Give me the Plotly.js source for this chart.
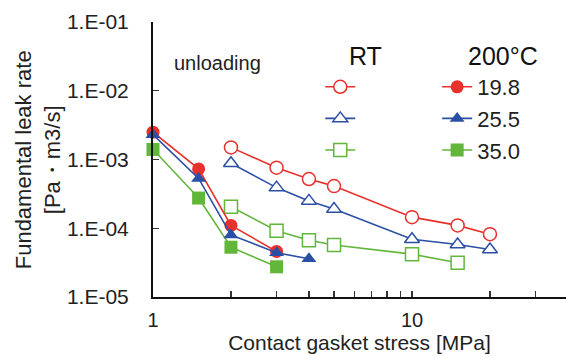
<!DOCTYPE html>
<html>
<head>
<meta charset="utf-8">
<script src="https://cdn.plot.ly/plotly-3.0.1.min.js"></script>
<style>html,body{margin:0;padding:0;background:#fff;}#chart{width:566px;height:358px;}</style>
</head>
<body>
<div id="chart"></div>
<script>
// Contact gasket stress [MPa]
const rtStress = [2, 3, 4, 5, 10, 15, 20];
const rtStress350 = [2, 3, 4, 5, 10, 15];
const hotStress = [1, 1.5, 2, 3];
const hotStress255 = [1, 1.5, 2, 3, 4];

// Fundamental leak rate [Pa·m3/s]
const rt198 = [1.5e-3, 7.6e-4, 5.2e-4, 4.1e-4, 1.45e-4, 1.1e-4, 8.2e-5];
const rt255 = [8.8e-4, 3.9e-4, 2.5e-4, 1.9e-4, 6.9e-5, 5.8e-5, 4.9e-5];
const rt350 = [2.05e-4, 9.2e-5, 6.7e-5, 5.7e-5, 4.2e-5, 3.15e-5];
const hot198 = [2.5e-3, 7.3e-4, 1.1e-4, 4.6e-5];
const hot255 = [2.3e-3, 5.3e-4, 8.0e-5, 4.4e-5, 3.6e-5];
const hot350 = [1.4e-3, 2.75e-4, 5.3e-5, 2.75e-5];

const seriesNames = ['19.8', '25.5', '35.0'];
const yTickVals = [1e-5, 1e-4, 1e-3, 1e-2, 1e-1];
const yTickText = ['1.E-05', '1.E-04', '1.E-03', '1.E-02', '1.E-01'];
const xTickVals = [1, 2, 3, 4, 5, 6, 7, 8, 9, 10, 20, 30];
const xTickText = ['1', '', '', '', '', '', '', '', '', '10', '', ''];

const RED = '#e8302c', BLUE = '#2a4fa5', GREEN = '#62b63a';
const FONT = 'Liberation Sans, Arial, sans-serif';

function tr(x, y, color, symbol, open, legend, name, rank) {
  return {
    x: x, y: y, type: 'scatter', mode: 'lines+markers', cliponaxis: false,
    name: name, legend: legend, legendrank: rank,
    line: {color: color, width: 1.6},
    marker: {symbol: symbol, size: 13, color: open ? '#ffffff' : color,
             line: {color: color, width: open ? 1.5 : 0}}
  };
}

const data = [
  tr(rtStress, rt198, RED, 'circle', true, 'legend', ' ', 1),
  tr(rtStress350, rt350, GREEN, 'square', true, 'legend', ' ', 3),
  tr(rtStress, rt255, BLUE, 'triangle-up', true, 'legend', ' ', 2),
  tr(hotStress, hot198, RED, 'circle', false, 'legend2', seriesNames[0], 1),
  tr(hotStress, hot350, GREEN, 'square', false, 'legend2', seriesNames[2], 3),
  tr(hotStress255, hot255, BLUE, 'triangle-up', false, 'legend2', seriesNames[1], 2)
];

const legendCommon = {
  yanchor: 'top', xanchor: 'left', bgcolor: 'rgba(0,0,0,0)', borderwidth: 0,
  font: {family: FONT, size: 22, color: '#222'}, tracegroupgap: 0, orientation: 'v'
};

const layout = {
  width: 566, height: 358,
  margin: {l: 153, r: 0, t: 22, b: 61},
  paper_bgcolor: '#fff', plot_bgcolor: '#fff',
  font: {family: FONT, color: '#222'},
  showlegend: true,
  legend: Object.assign({x: 0.405, y: 0.84}, legendCommon),
  legend2: Object.assign({x: 0.688, y: 0.84}, legendCommon),
  xaxis: {
    type: 'log', range: [0, 1.5946],
    showline: true, linecolor: '#111', linewidth: 2, mirror: false,
    showgrid: false, zeroline: false,
    ticks: 'inside', ticklen: 6, tickwidth: 1.2, tickcolor: '#333',
    tickmode: 'array', tickvals: xTickVals, ticktext: xTickText,
    tickfont: {family: FONT, size: 20, color: '#222'},
    ticklabelstandoff: 4,
    title: {text: 'Contact gasket stress [MPa]', font: {family: FONT, size: 21, color: '#222'}, standoff: 1}
  },
  yaxis: {
    type: 'log', range: [-5, -1],
    showline: true, linecolor: '#111', linewidth: 2, mirror: false,
    showgrid: false, zeroline: false,
    ticks: 'inside', ticklen: 6, tickwidth: 1.2, tickcolor: '#333',
    tickmode: 'array', tickvals: yTickVals, ticktext: yTickText,
    tickfont: {family: FONT, size: 21, color: '#222'},
    ticklabelstandoff: 18
  },
  annotations: [
    {xref: 'paper', yref: 'paper', x: -0.279, y: 0.50, xanchor: 'center', yanchor: 'middle',
     textangle: -90, showarrow: false,
     text: 'Fundamental leak rate<br>[Pa・m3/s]', font: {family: FONT, size: 22, color: '#222'}},
    {xref: 'paper', yref: 'paper', x: (217 - 153) / 413, y: (297 - 63) / 275, xanchor: 'center', yanchor: 'middle',
     showarrow: false, text: 'unloading', font: {family: FONT, size: 20, color: '#222'}},
    {xref: 'paper', yref: 'paper', x: (365 - 153) / 413, y: (297 - 56) / 275, xanchor: 'center', yanchor: 'middle',
     showarrow: false, text: 'RT', font: {family: FONT, size: 25, color: '#111'}},
    {xref: 'paper', yref: 'paper', x: (503 - 153) / 413, y: (297 - 56) / 275, xanchor: 'center', yanchor: 'middle',
     showarrow: false, text: '200°C', font: {family: FONT, size: 25, color: '#111'}}
  ]
};

Plotly.newPlot('chart', data, layout, {staticPlot: true, displayModeBar: false});
</script>
</body>
</html>
